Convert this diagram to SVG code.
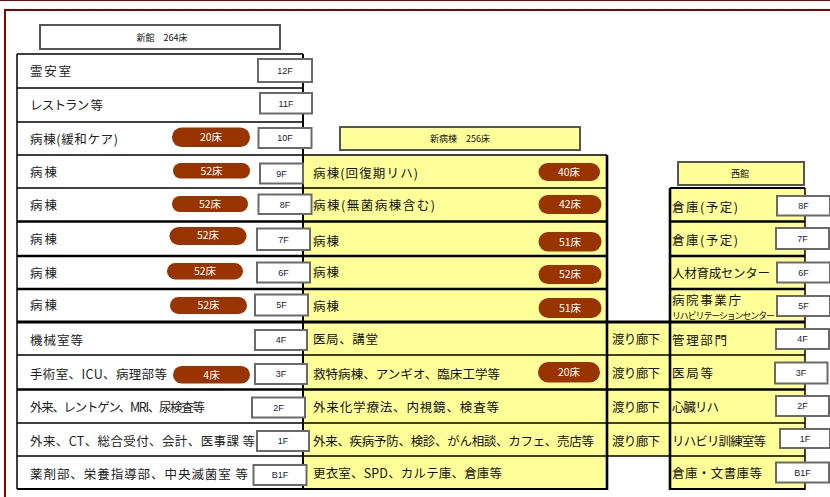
<svg xmlns="http://www.w3.org/2000/svg" width="830" height="497" viewBox="0 0 830 497">
<style>
text{font-family:"Noto Sans CJK JP","Liberation Sans",sans-serif}
.t{font-size:12.5px;fill:#222}
.ty{font-size:12.5px;fill:#111}
.ts{font-size:9px;fill:#111}
.fl{fill:#fff;stroke:#6a6a6a;stroke-width:2}
.fx{font-family:"Liberation Sans",sans-serif;font-size:9px;fill:#1a1a3a;text-anchor:middle}
.pill{fill:#993300}
.px{font-size:10.5px;fill:#fff;text-anchor:middle}
.hd{font-size:9px;fill:#111;text-anchor:middle}
.hb{fill:#fff;stroke:#555;stroke-width:2}
.hy{fill:#ffff99;stroke:#555;stroke-width:2}
.y{fill:#ffff99}
.ln{stroke:#000;fill:none}
.n{stroke-width:1.5}
.k{stroke-width:2.6}
</style>
<rect x="0" y="0" width="830" height="497" fill="#fff"/>
<g id="frame" fill="none" stroke="#8b0000">
<line x1="0" y1="0.5" x2="830" y2="0.5" stroke-width="1"/>
<line x1="4" y1="10" x2="830" y2="10" stroke-width="2"/>
<line x1="5" y1="10" x2="5" y2="497" stroke-width="2"/>
</g>
<g id="fills">
<rect class="y" x="303" y="155" width="304" height="334"/>
<rect class="y" x="607" y="322" width="63" height="134"/>
<rect class="y" x="670" y="188" width="135" height="301"/>
</g>
<g id="lines" class="ln">
<line class="n" x1="17" y1="54" x2="303" y2="54"/>
<line class="n" x1="17" y1="88" x2="303" y2="88"/>
<line class="n" x1="17" y1="122" x2="303" y2="122"/>
<line class="n" x1="17" y1="155" x2="607" y2="155"/>
<line class="n" x1="17" y1="188" x2="607" y2="188"/>
<line x1="670" y1="188" x2="805" y2="188" stroke-width="2"/>
<line class="k" x1="17" y1="221.5" x2="607" y2="221.5"/>
<line class="k" x1="670" y1="221.5" x2="805" y2="221.5"/>
<line class="k" x1="17" y1="256" x2="607" y2="256"/>
<line class="k" x1="670" y1="256" x2="805" y2="256"/>
<line class="k" x1="17" y1="289" x2="607" y2="289"/>
<line class="k" x1="670" y1="289" x2="805" y2="289"/>
<line x1="17" y1="322" x2="805" y2="322" stroke-width="3"/>
<line class="n" x1="17" y1="355" x2="805" y2="355"/>
<line class="k" x1="17" y1="389.5" x2="805" y2="389.5"/>
<line class="n" x1="17" y1="423" x2="805" y2="423"/>
<line class="n" x1="17" y1="456" x2="805" y2="456"/>
<line x1="17" y1="489" x2="608" y2="489" stroke-width="2"/>
<line x1="670" y1="489" x2="805" y2="489" stroke-width="2"/>
<line class="n" x1="17" y1="54" x2="17" y2="489"/>
<line x1="303" y1="54" x2="303" y2="490" stroke-width="2"/>
<line x1="607" y1="155" x2="607" y2="490" stroke-width="2.6"/>
<line x1="670" y1="188" x2="670" y2="490" stroke-width="2.6"/>
<line class="n" x1="805" y1="188" x2="805" y2="490"/>
</g>
<g id="header-shinkan">
<rect class="hb" x="40" y="25" width="240" height="24"/>
<text class="hd" x="162" y="40.5">新館　264床</text>
</g>
<g id="header-shinbyoto">
<rect class="hy" x="340" y="127" width="240" height="23"/>
<text class="hd" x="460" y="141.5">新病棟　256床</text>
</g>
<g id="header-nishikan">
<rect class="hy" x="678" y="162" width="126" height="23"/>
<text class="hd" x="740" y="176.5">西館</text>
</g>
<g id="shinkan-rows">
<text class="t" x="30" y="75.5" textLength="41" lengthAdjust="spacing">霊安室</text>
<text class="t" x="30" y="109.5" textLength="73" lengthAdjust="spacing">レストラン 等</text>
<text class="t" x="30" y="143.5" textLength="88" lengthAdjust="spacing">病棟(緩和ケア)</text>
<text class="t" x="30" y="177" textLength="27" lengthAdjust="spacing">病棟</text>
<text class="t" x="30" y="209.5" textLength="27" lengthAdjust="spacing">病棟</text>
<text class="t" x="30" y="243.5" textLength="27" lengthAdjust="spacing">病棟</text>
<text class="t" x="30" y="277.5" textLength="27" lengthAdjust="spacing">病棟</text>
<text class="t" x="30" y="309.5" textLength="27" lengthAdjust="spacing">病棟</text>
<text class="t" x="30" y="344.5" textLength="53" lengthAdjust="spacing">機械室等</text>
<text class="t" x="30" y="378.5" textLength="137" lengthAdjust="spacing">手術室、ICU、病理部等</text>
<text class="t" x="30" y="411.5" textLength="175" lengthAdjust="spacing" fill="#444">外来、レントゲン、MRI、尿検査等</text>
<text class="t" x="30" y="445.5" textLength="225" lengthAdjust="spacing" fill="#444">外来、CT、総合受付、会計、医事課 等</text>
<text class="t" x="30" y="478.5" textLength="218" lengthAdjust="spacing" fill="#333">薬剤部、栄養指導部、中央滅菌室 等</text>
</g>
<g id="shinkan-pills">
<rect class="pill" x="172" y="127.5" width="78" height="19.5" rx="9.75"/><text class="px" x="211" y="141">20床</text>
<rect class="pill" x="173" y="163" width="77" height="15.5" rx="7.75"/><text class="px" x="211.5" y="174.5">52床</text>
<rect class="pill" x="172" y="196" width="76" height="16" rx="8"/><text class="px" x="210" y="207.5">52床</text>
<rect class="pill" x="169.5" y="227" width="77" height="18" rx="9"/><text class="px" x="208" y="238.5">52床</text>
<rect class="pill" x="167" y="263" width="76" height="16.5" rx="8.25"/><text class="px" x="205" y="274.5">52床</text>
<rect class="pill" x="170" y="297" width="77" height="17" rx="8.5"/><text class="px" x="208.5" y="308.5">52床</text>
<rect class="pill" x="173" y="366" width="77" height="17.5" rx="8.75"/><text class="px" x="211.5" y="378.5">4床</text>
</g>
<g id="shinbyoto-rows">
<text class="ty" x="313" y="177.5" textLength="105" lengthAdjust="spacing">病棟(回復期リハ)</text>
<text class="ty" x="313" y="209.5" textLength="122" lengthAdjust="spacing">病棟(無菌病棟含む)</text>
<text class="ty" x="313" y="245.5" textLength="26" lengthAdjust="spacing">病棟</text>
<text class="ty" x="313" y="276.5" textLength="26" lengthAdjust="spacing">病棟</text>
<text class="ty" x="313" y="310.5" textLength="26" lengthAdjust="spacing">病棟</text>
<text class="ty" x="313" y="343.5" textLength="65" lengthAdjust="spacing">医局、講堂</text>
<text class="ty" x="313" y="378.5" textLength="187" lengthAdjust="spacing">救特病棟、アンギオ、臨床工学等</text>
<text class="ty" x="313" y="411.5" textLength="186" lengthAdjust="spacing">外来化学療法、内視鏡、検査等</text>
<text class="ty" x="313" y="445.5" textLength="281" lengthAdjust="spacing">外来、疾病予防、検診、がん相談、カフェ、売店等</text>
<text class="ty" x="313" y="477.5" textLength="189" lengthAdjust="spacing">更衣室、SPD、カルテ庫、倉庫等</text>
</g>
<g id="shinbyoto-pills">
<rect class="pill" x="538.5" y="163" width="61.5" height="18" rx="9"/><text class="px" x="569" y="175.5">40床</text>
<rect class="pill" x="538.5" y="195" width="63" height="19" rx="9.5"/><text class="px" x="570" y="208">42床</text>
<rect class="pill" x="538.5" y="232" width="63" height="19.5" rx="9.75"/><text class="px" x="570" y="245.5">51床</text>
<rect class="pill" x="538.5" y="265" width="63" height="19" rx="9.5"/><text class="px" x="570" y="278">52床</text>
<rect class="pill" x="538.5" y="298" width="63" height="20" rx="10"/><text class="px" x="570" y="311.5">51床</text>
<rect class="pill" x="538" y="362" width="62" height="20.5" rx="10.25"/><text class="px" x="569" y="375.5">20床</text>
</g>
<g id="watari-rooka">
<text class="ty" x="612" y="343.5" textLength="48" lengthAdjust="spacing">渡り廊下</text>
<text class="ty" x="612" y="378" textLength="48" lengthAdjust="spacing">渡り廊下</text>
<text class="ty" x="612" y="411.5" textLength="48" lengthAdjust="spacing">渡り廊下</text>
<text class="ty" x="612" y="445.5" textLength="48" lengthAdjust="spacing">渡り廊下</text>
</g>
<g id="nishikan-rows">
<text class="ty" x="672" y="211.5" textLength="66" lengthAdjust="spacing">倉庫(予定)</text>
<text class="ty" x="672" y="244.5" textLength="66" lengthAdjust="spacing">倉庫(予定)</text>
<text class="ty" x="672" y="277.5" textLength="98" lengthAdjust="spacing">人材育成センター</text>
<text class="ty" x="672" y="305" textLength="69" lengthAdjust="spacing">病院事業庁</text>
<text class="ts" x="672" y="318.5" textLength="103" lengthAdjust="spacing">リハビリテーションセンター</text>
<text class="ty" x="672" y="344.5" textLength="55" lengthAdjust="spacing">管理部門</text>
<text class="ty" x="672" y="377.5" textLength="41" lengthAdjust="spacing">医局等</text>
<text class="ty" x="672" y="411.5" textLength="47" lengthAdjust="spacing">心臓リハ</text>
<text class="ty" x="672" y="445.5" textLength="94" lengthAdjust="spacing">リハビリ訓練室等</text>
<text class="ty" x="672" y="477.5" textLength="90" lengthAdjust="spacing">倉庫・文書庫等</text>
</g>
<g id="floors-shinkan">
<rect class="fl" x="258" y="59" width="54" height="23"/><text class="fx" x="285" y="73.5">12F</text>
<rect class="fl" x="260" y="93" width="52" height="20.5"/><text class="fx" x="286" y="106.5">11F</text>
<rect class="fl" x="258.5" y="128" width="53" height="20"/><text class="fx" x="285" y="141">10F</text>
<rect class="fl" x="260" y="163.5" width="43" height="20"/><text class="fx" x="281.5" y="176.5">9F</text>
<rect class="fl" x="258.5" y="194.5" width="53" height="19.5"/><text class="fx" x="285" y="207.5">8F</text>
<rect class="fl" x="257" y="228.5" width="53" height="21.5"/><text class="fx" x="283.5" y="242.5">7F</text>
<rect class="fl" x="257" y="262.5" width="53" height="20"/><text class="fx" x="283.5" y="275.5">6F</text>
<rect class="fl" x="255" y="294.5" width="53" height="21"/><text class="fx" x="281.5" y="308">5F</text>
<rect class="fl" x="255" y="330" width="52" height="20"/><text class="fx" x="281" y="343">4F</text>
<rect class="fl" x="255" y="364" width="52" height="20"/><text class="fx" x="281" y="377">3F</text>
<rect class="fl" x="252" y="397.5" width="53" height="20"/><text class="fx" x="278.5" y="410.5">2F</text>
<rect class="fl" x="257" y="431" width="52" height="20"/><text class="fx" x="283" y="444">1F</text>
<rect class="fl" x="253.5" y="465" width="53" height="20"/><text class="fx" x="280" y="478">B1F</text>
</g>
<g id="floors-nishikan">
<rect class="fl" x="777" y="196" width="53" height="19.5"/><text class="fx" x="803.5" y="209">8F</text>
<rect class="fl" x="776" y="228" width="53" height="21"/><text class="fx" x="802.5" y="241.5">7F</text>
<rect class="fl" x="777" y="262.5" width="53" height="20"/><text class="fx" x="803.5" y="275.5">6F</text>
<rect class="fl" x="777" y="296" width="53" height="20"/><text class="fx" x="803.5" y="309">5F</text>
<rect class="fl" x="776" y="329" width="53" height="20"/><text class="fx" x="802.5" y="342">4F</text>
<rect class="fl" x="775" y="362.5" width="52.5" height="21"/><text class="fx" x="801" y="376">3F</text>
<rect class="fl" x="776" y="396" width="53" height="20"/><text class="fx" x="802.5" y="409">2F</text>
<rect class="fl" x="780" y="429" width="50" height="19"/><text class="fx" x="805" y="441.5">1F</text>
<rect class="fl" x="776" y="462.5" width="53" height="20"/><text class="fx" x="802.5" y="475.5">B1F</text>
</g>
</svg>
